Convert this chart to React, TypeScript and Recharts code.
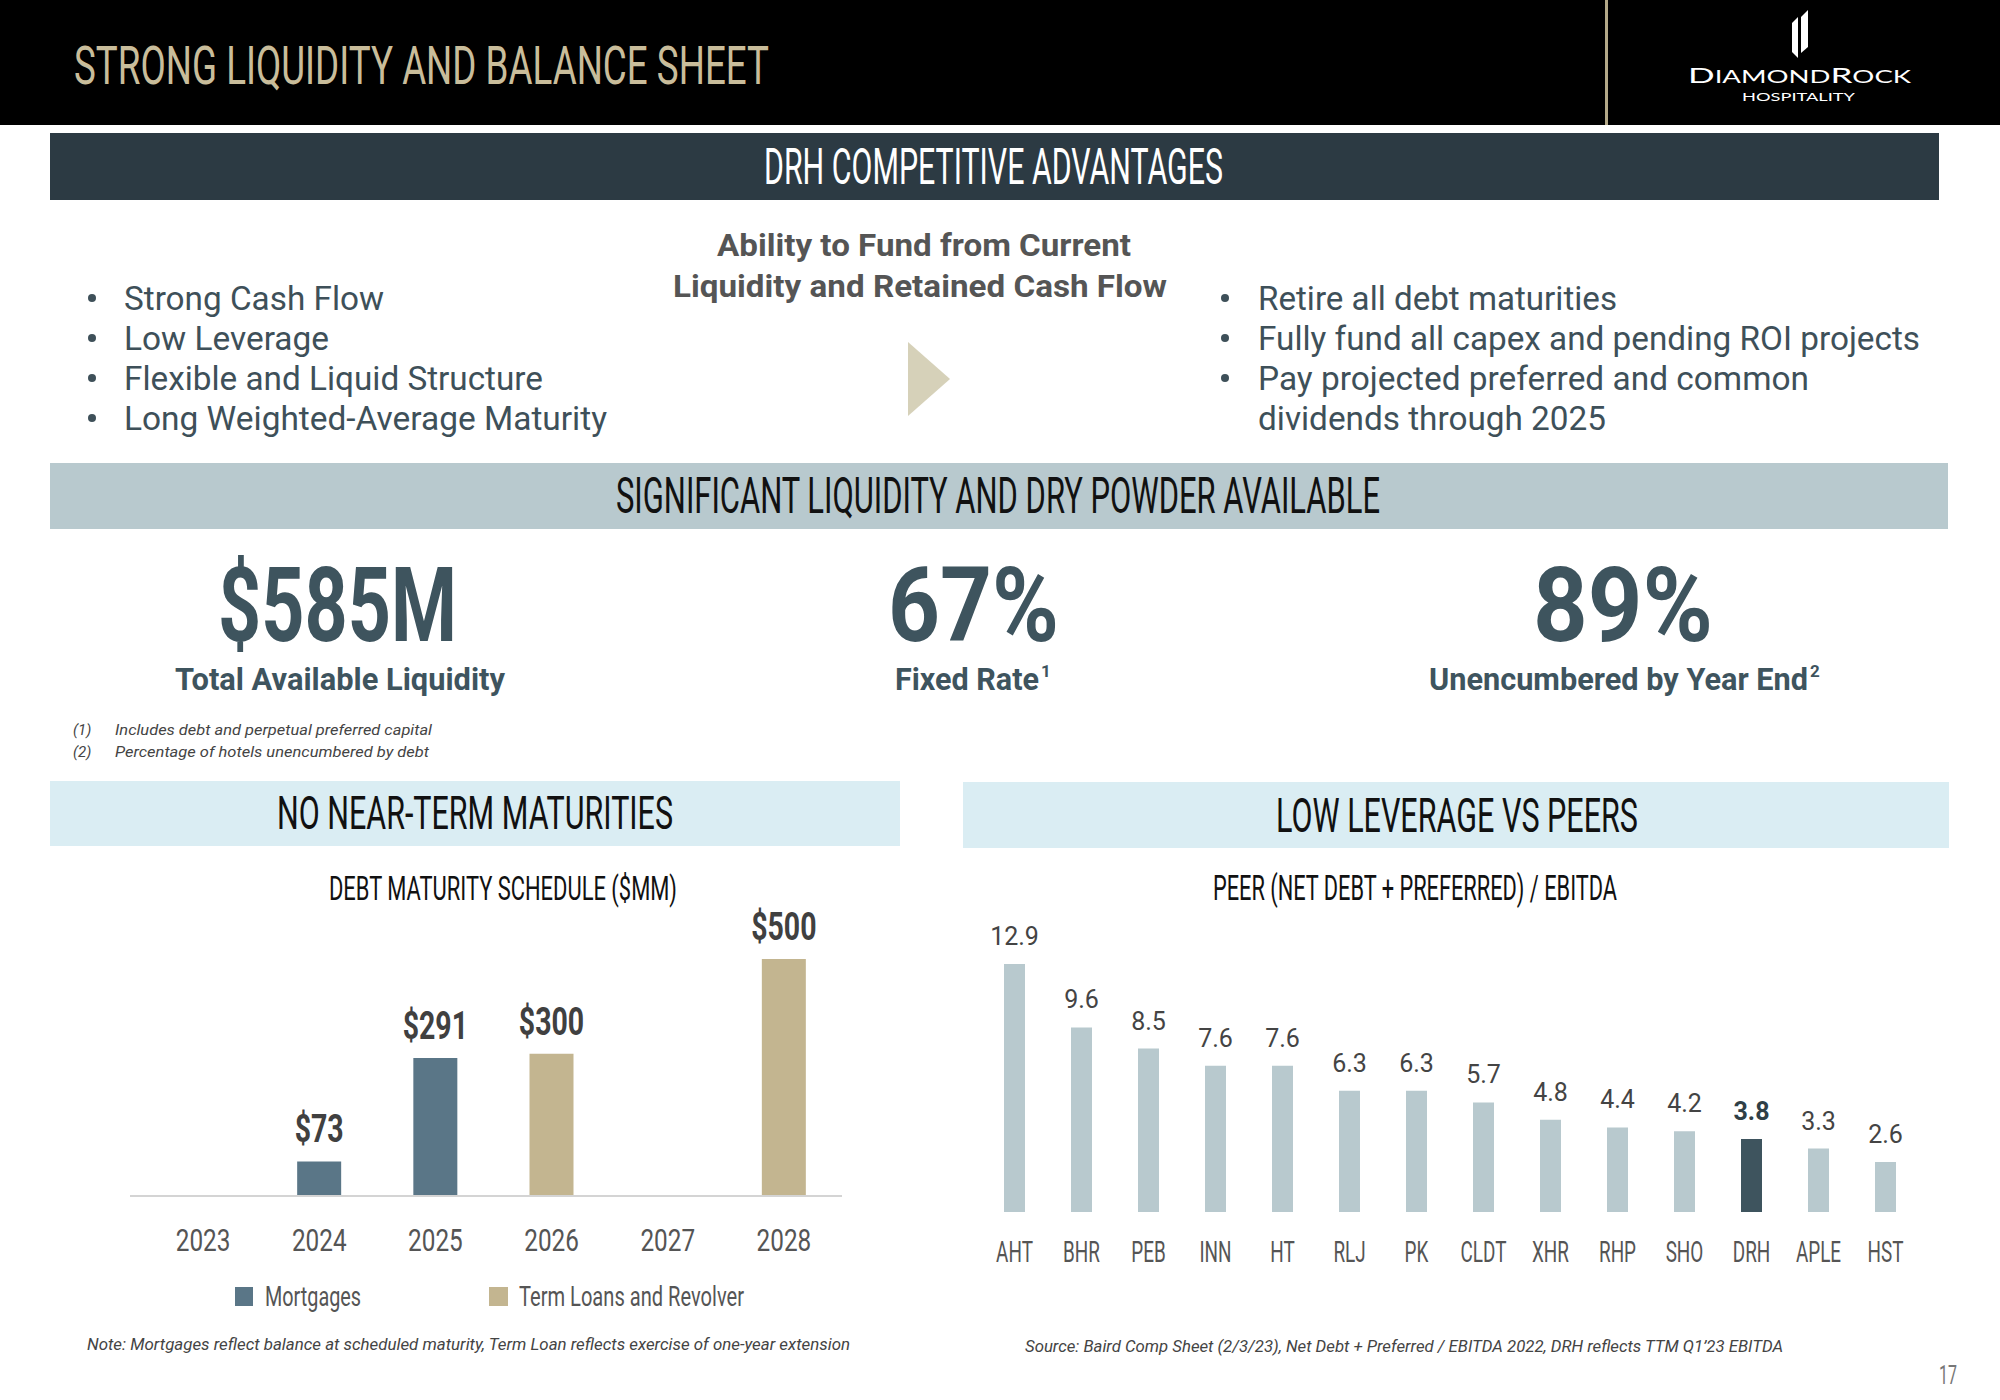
import React from "react";
import { BarChart, Bar, XAxis, YAxis, Cell, LabelList } from "recharts";

// ---------- DATA ----------
const years = ["2023", "2024", "2025", "2026", "2027", "2028"];
const mortgages: (number | null)[] = [null, 73, 291, null, null, null];
const termLoans: (number | null)[] = [null, null, null, 300, null, 500];
const seriesNames = ["Mortgages", "Term Loans and Revolver"];

const peers = ["AHT", "BHR", "PEB", "INN", "HT", "RLJ", "PK", "CLDT", "XHR", "RHP", "SHO", "DRH", "APLE", "HST"];
const leverage = [12.9, 9.6, 8.5, 7.6, 7.6, 6.3, 6.3, 5.7, 4.8, 4.4, 4.2, 3.8, 3.3, 2.6];
const highlightPeer = "DRH";

const leftBullets = ["Strong Cash Flow", "Low Leverage", "Flexible and Liquid Structure", "Long Weighted-Average Maturity"];
const rightBullets = ["Retire all debt maturities", "Fully fund all capex and pending ROI projects", "Pay projected preferred and common", "dividends through 2025"];
const middleLines = ["Ability to Fund from Current", "Liquidity and Retained Cash Flow"];
const statValues = ["$585M", "67%", "89%"];
const statLabels = ["Total Available Liquidity", "Fixed Rate", "Unencumbered by Year End"];
const statSups = ["", "1", "2"];
const footnotes = ["Includes debt and perpetual preferred capital", "Percentage of hotels unencumbered by debt"];

const debtData = years.map((y, i) => ({ year: y, mortgages: mortgages[i], termLoans: termLoans[i] }));
const peerData = peers.map((p, i) => ({ peer: p, value: leverage[i] }));

// ---------- STYLE ----------
const C_MORT = "#5a7687";
const C_TERM = "#c3b590";
const C_PEER = "#b8c9ce";
const C_DRH = "#3e545e";
const SLATE = "#3e5059";

const T = (p: any) => (
  <text
    x={p.x}
    y={p.y}
    textLength={p.w}
    lengthAdjust="spacingAndGlyphs"
    fontFamily={p.family || "Roboto"}
    fontSize={p.size}
    fontWeight={p.weight || 400}
    fontStyle={p.italic ? "italic" : "normal"}
    fill={p.fill || "#333"}
  >
    {p.children}
  </text>
);

const LeftTick = (props: any) => {
  const { x, y, payload } = props;
  return (
    <text transform={`translate(${x},${y + 55}) scale(0.76,1)`} textAnchor="middle" fontFamily="Roboto" fontSize={32} fill="#555">
      {payload.value}
    </text>
  );
};

const RightTick = (props: any) => {
  const { x, y, payload } = props;
  return (
    <text transform={`translate(${x},${y + 50}) scale(0.63,1)`} textAnchor="middle" fontFamily="Roboto" fontSize={30} fill="#555">
      {payload.value}
    </text>
  );
};

const DebtLabel = (props: any) => {
  const { x, y, width, value } = props;
  if (value == null || value === 0) return null;
  const cx = Number(x) + Number(width) / 2;
  return (
    <text transform={`translate(${cx},${Number(y) - 19}) scale(0.73,1)`} textAnchor="middle" fontFamily="Roboto" fontWeight={700} fontSize={39} fill="#404040">
      {"$" + value}
    </text>
  );
};

const PeerLabel = (props: any) => {
  const { x, y, width, value, index } = props;
  const cx = Number(x) + Number(width) / 2;
  const hl = peers[index] === highlightPeer;
  return (
    <text x={cx} y={Number(y) - 19} textAnchor="middle" fontFamily="Roboto" fontWeight={hl ? 700 : 400} fontSize={25} fill={hl ? "#2f3f47" : "#444"}>
      {Number(value).toFixed(1)}
    </text>
  );
};

export default function App() {
  const bulletY = [310, 350, 390, 430];
  const leftW = [260, 205, 419, 483];
  const rightW = [359, 662, 551, 348];
  return (
    <div style={{ position: "absolute", left: 0, top: 0, width: 2000, height: 1400, background: "#fff", overflow: "hidden" }}>
      <style>{"body{margin:0}"}</style>
      <svg width={2000} height={1400} style={{ position: "absolute", left: 0, top: 0 }}>
        {/* header */}
        <rect x={0} y={0} width={2000} height={125} fill="#000" />
        <rect x={1605} y={0} width={3} height={125} fill="#b3a888" />
        <T x={74} y={84} w={695} size={54} fill="#c9bd9b">STRONG LIQUIDITY AND BALANCE SHEET</T>
        {/* logo */}
        <polygon points="1792,23 1798,17 1798,58 1792,52" fill="#fff" />
        <polygon points="1801,17 1808,10 1808,47 1801,53" fill="#fff" />
        <text x={1688} y={83} textLength={223} lengthAdjust="spacingAndGlyphs" fontFamily="Lato" fontSize={16.5} fill="#fff">
          <tspan fontSize={21}>D</tspan>IAMOND<tspan fontSize={21}>R</tspan>OCK
        </text>
        <T x={1742} y={101} w={113} size={11} family="Lato" fill="#fff">HOSPITALITY</T>

        {/* competitive advantages */}
        <rect x={50} y={133} width={1889} height={67} fill="#2c3a43" />
        <T x={764} y={184} w={459} size={50} fill="#fff">DRH COMPETITIVE ADVANTAGES</T>

        {leftBullets.map((b, i) => (
          <g key={"lb" + i}>
            <circle cx={92} cy={bulletY[i] - 12} r={4} fill={SLATE} />
            <T x={124} y={bulletY[i]} w={leftW[i]} size={33} fill={SLATE}>{b}</T>
          </g>
        ))}
        {rightBullets.map((b, i) => (
          <g key={"rb" + i}>
            {i < 3 && <circle cx={1225} cy={bulletY[i] - 12} r={4} fill={SLATE} />}
            <T x={1258} y={bulletY[i]} w={rightW[i]} size={33} fill={SLATE}>{b}</T>
          </g>
        ))}
        <T x={717} y={256} w={414} size={31} weight={700} fill="#555">{middleLines[0]}</T>
        <T x={673} y={297} w={494} size={31} weight={700} fill="#555">{middleLines[1]}</T>
        <polygon points="908,342 950,379 908,416" fill="#d6d1b9" />

        {/* liquidity */}
        <rect x={50} y={463} width={1898} height={66} fill="#b8c9ce" />
        <T x={616} y={513} w={764} size={50} fill="#111">SIGNIFICANT LIQUIDITY AND DRY POWDER AVAILABLE</T>

        <T x={218} y={641} w={239} size={104} weight={700} fill={C_DRH}>{statValues[0]}</T>
        <T x={888} y={641} w={171} size={104} weight={700} fill={C_DRH}>{statValues[1]}</T>
        <T x={1533} y={641} w={180} size={104} weight={700} fill={C_DRH}>{statValues[2]}</T>

        <T x={175} y={690} w={330} size={32} weight={700} fill={C_DRH}>{statLabels[0]}</T>
        <T x={895} y={690} w={144} size={32} weight={700} fill={C_DRH}>{statLabels[1]}</T>
        <text x={1041} y={677} fontFamily="Roboto" fontWeight={700} fontSize={17} fill={C_DRH}>{statSups[1]}</text>
        <T x={1429} y={690} w={379} size={32} weight={700} fill={C_DRH}>{statLabels[2]}</T>
        <text x={1810} y={677} fontFamily="Roboto" fontWeight={700} fontSize={17} fill={C_DRH}>{statSups[2]}</text>

        <text x={73} y={735} fontFamily="Roboto" fontStyle="italic" fontSize={15} fill="#444">(1)</text>
        <T x={115} y={735} w={317} size={15} italic fill="#444">{footnotes[0]}</T>
        <text x={73} y={757} fontFamily="Roboto" fontStyle="italic" fontSize={15} fill="#444">(2)</text>
        <T x={115} y={757} w={314} size={15} italic fill="#444">{footnotes[1]}</T>

        {/* section heads */}
        <rect x={50} y={781} width={850} height={65} fill="#daedf3" />
        <T x={277} y={829} w={396} size={47} fill="#111">NO NEAR-TERM MATURITIES</T>
        <rect x={963} y={782} width={986} height={66} fill="#daedf3" />
        <T x={1276} y={832} w={362} size={48} fill="#111">LOW LEVERAGE VS PEERS</T>

        <T x={329} y={900} w={348} size={34} fill="#111">DEBT MATURITY SCHEDULE ($MM)</T>
        <T x={1213} y={900} w={404} size={35} fill="#111">PEER (NET DEBT + PREFERRED) / EBITDA</T>

        {/* legend */}
        <rect x={235} y={1287} width={18} height={19} fill={C_MORT} />
        <T x={265} y={1306} w={96} size={28} fill="#555">{seriesNames[0]}</T>
        <rect x={489} y={1287} width={19} height={19} fill={C_TERM} />
        <T x={519} y={1306} w={225} size={28} fill="#555">{seriesNames[1]}</T>

        <T x={87} y={1350} w={763} size={16} italic fill="#444">
          Note:  Mortgages reflect balance at scheduled maturity, Term Loan reflects exercise of one-year extension
        </T>
        <T x={1025} y={1352} w={758} size={16} italic fill="#444">
          Source: Baird Comp Sheet (2/3/23), Net Debt + Preferred / EBITDA 2022, DRH reflects TTM Q1’23 EBITDA
        </T>
        <T x={1939} y={1384} w={18} size={26} fill="#777">17</T>
      </svg>

      {/* left chart */}
      <div style={{ position: "absolute", left: 100, top: 900 }}>
        <BarChart width={800} height={360} data={debtData} margin={{ top: 59, right: 58, left: 30, bottom: 0 }}>
          <XAxis
            dataKey="year"
            height={64}
            padding={{ left: 15, right: 0 }}
            tickLine={false}
            tickSize={0}
            tickMargin={0}
            axisLine={{ stroke: "#d4d4d4", strokeWidth: 2 }}
            tick={<LeftTick />}
            interval={0}
          />
          <YAxis hide domain={[0, 500]} />
          <Bar dataKey="mortgages" stackId="d" fill={C_MORT} barSize={44} isAnimationActive={false}>
            <LabelList dataKey="mortgages" content={<DebtLabel />} />
          </Bar>
          <Bar dataKey="termLoans" stackId="d" fill={C_TERM} barSize={44} isAnimationActive={false}>
            <LabelList dataKey="termLoans" content={<DebtLabel />} />
          </Bar>
        </BarChart>
      </div>

      {/* right chart */}
      <div style={{ position: "absolute", left: 960, top: 900 }}>
        <BarChart width={980} height={380} data={peerData} margin={{ top: 62, right: 21, left: 21, bottom: 0 }}>
          <XAxis
            dataKey="peer"
            height={68}
            tickLine={false}
            tickSize={0}
            tickMargin={0}
            axisLine={false}
            tick={<RightTick />}
            interval={0}
          />
          <YAxis hide domain={[0, 13]} />
          <Bar dataKey="value" barSize={21} isAnimationActive={false}>
            {peerData.map((d, i) => (
              <Cell key={i} fill={d.peer === highlightPeer ? C_DRH : C_PEER} />
            ))}
            <LabelList dataKey="value" content={<PeerLabel />} />
          </Bar>
        </BarChart>
      </div>
    </div>
  );
}
